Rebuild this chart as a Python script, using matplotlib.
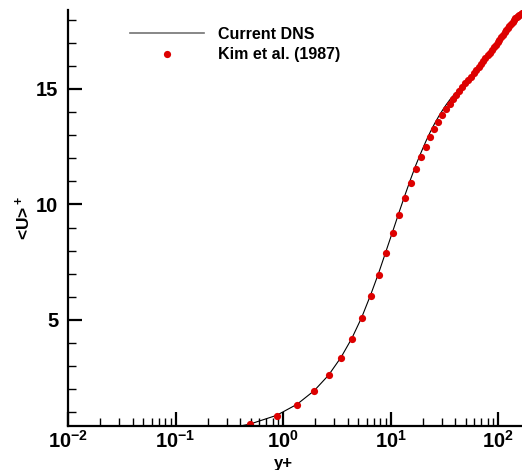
import numpy as np
import matplotlib
matplotlib.use("Agg")
import matplotlib.pyplot as plt
from matplotlib.ticker import MultipleLocator, LogLocator, NullFormatter

plt.rcParams["font.family"] = ["Liberation Sans", "DejaVu Sans"]
plt.rcParams["font.weight"] = "bold"
plt.rcParams["mathtext.fontset"] = "custom"
plt.rcParams["mathtext.rm"] = "Liberation Sans:bold"
plt.rcParams["mathtext.it"] = "Liberation Sans:bold"
plt.rcParams["mathtext.bf"] = "Liberation Sans:bold"
plt.rcParams["mathtext.default"] = "rm"
plt.rcParams["axes.unicode_minus"] = False

# Kim et al. (1987)
kim_y = [0.49, 0.87, 1.35, 1.95, 2.65, 3.46, 4.37, 5.39, 6.52, 7.75,
         9.08, 10.52, 12.06, 13.70, 15.44, 17.28, 19.22, 21.25, 23.38, 25.61,
         27.93, 30.34, 32.84, 35.42, 38.10, 40.86, 43.70, 46.63, 49.64, 52.72,
         55.88, 59.12, 62.43, 65.81, 69.26, 72.77, 76.36, 80.00, 83.70, 87.46,
         91.28, 95.15, 99.07, 103.04, 107.06, 111.12, 115.22, 119.36, 123.54, 127.75,
         131.99, 136.26, 140.56, 144.88, 149.23, 153.59, 157.97, 162.36, 166.76, 171.17,
         175.58, 180.00]
kim_u = [0.49, 0.86, 1.34, 1.93, 2.60, 3.36, 4.18, 5.07, 6.03, 6.96,
         7.89, 8.75, 9.56, 10.29, 10.94, 11.54, 12.04, 12.50, 12.91, 13.27,
         13.57, 13.87, 14.12, 14.35, 14.55, 14.76, 14.92, 15.08, 15.24, 15.39,
         15.54, 15.68, 15.82, 15.95, 16.08, 16.21, 16.34, 16.46, 16.58, 16.70,
         16.81, 16.92, 17.03, 17.14, 17.25, 17.35, 17.45, 17.55, 17.65, 17.74,
         17.83, 17.91, 17.99, 18.06, 18.12, 18.17, 18.21, 18.25, 18.28, 18.30,
         18.31, 18.31]

# current DNS
dns_y = [0.30, 0.49, 0.87, 1.35, 1.95, 2.65, 3.46, 4.37, 5.39, 6.52,
         7.75, 9.08, 10.52, 12.06, 13.70, 15.44, 17.28, 19.22, 21.25, 23.38,
         25.61, 27.93, 30.34, 32.84, 35.42, 38.10, 42.0, 46.0, 50.0, 55.0,
         60.0, 66.0, 72.0, 80.0, 88.0, 96.0, 105.0, 115.0, 125.0, 135.0,
         145.0, 155.0, 165.0, 175.0, 180.0]
dns_u = [0.30, 0.49, 0.87, 1.35, 1.94, 2.61, 3.38, 4.21, 5.11, 6.08,
         7.03, 7.98, 8.86, 9.69, 10.44, 11.12, 11.73, 12.25, 12.72, 13.13,
         13.49, 13.80, 14.07, 14.31, 14.52, 14.70, 14.92, 15.15, 15.33, 15.55,
         15.74, 15.97, 16.19, 16.47, 16.72, 16.95, 17.19, 17.45, 17.69, 17.89,
         18.05, 18.17, 18.26, 18.31, 18.32]

fig = plt.figure(figsize=(5.22, 4.70), dpi=100)
ax = fig.add_axes([68 / 522, 44 / 470, 454 / 522, 416 / 470])

ax.plot(dns_y, dns_u, color="black", lw=0.8, label="Current DNS")
ax.plot(kim_y, kim_u, "o", color="#dd0000", ms=5.2, mew=0, label="Kim et al. (1987)")

ax.set_xscale("log")
ax.set_xlim(0.01, 167)
ax.set_ylim(0.41, 18.42)

ax.yaxis.set_major_locator(MultipleLocator(5))
ax.yaxis.set_minor_locator(MultipleLocator(1))
ax.xaxis.set_major_locator(LogLocator(base=10))
ax.xaxis.set_minor_locator(LogLocator(base=10, subs=np.arange(2, 10)))
ax.xaxis.set_minor_formatter(NullFormatter())

for s in ["top", "right"]:
    ax.spines[s].set_visible(False)
for s in ["left", "bottom"]:
    ax.spines[s].set_linewidth(1.6)

ax.tick_params(which="major", direction="in", length=10, width=1.6, labelsize=14.5)
ax.tick_params(which="minor", direction="in", length=6, width=1)
ax.tick_params(axis="x", which="major", pad=3)
ax.tick_params(axis="y", which="major", pad=7)

ax.set_xlabel("y+", fontsize=12, fontweight="bold")
ax.xaxis.set_label_coords(0.475, -0.071)
ax.set_ylabel("<U>$^+$", fontsize=12.5, fontweight="bold", labelpad=2)

leg = ax.legend(loc="upper left", bbox_to_anchor=(0.137, 0.96), frameon=False,
                fontsize=11.5, handlelength=4.6, handletextpad=0.9, labelspacing=0.35,
                borderpad=0, borderaxespad=0, numpoints=1)
leg.get_lines()[0].set_color("0.45")
leg.get_lines()[0].set_linewidth(1.2)

fig.savefig("out.png", dpi=100)
